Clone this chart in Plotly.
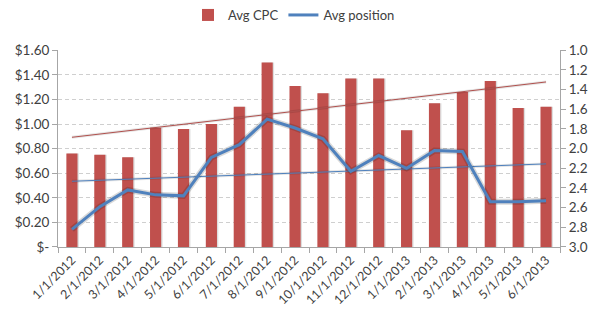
import numpy as np
import plotly.graph_objects as go

months = ["1/1/2012", "2/1/2012", "3/1/2012", "4/1/2012", "5/1/2012", "6/1/2012",
          "7/1/2012", "8/1/2012", "9/1/2012", "10/1/2012", "11/1/2012", "12/1/2012",
          "1/1/2013", "2/1/2013", "3/1/2013", "4/1/2013", "5/1/2013", "6/1/2013"]
avg_cpc = [0.76, 0.75, 0.73, 0.97, 0.96, 1.00, 1.14, 1.50, 1.31, 1.25, 1.37, 1.37,
           0.95, 1.17, 1.26, 1.35, 1.13, 1.14]
avg_position = [2.82, 2.59, 2.42, 2.47, 2.48, 2.09, 1.96, 1.70, 1.79, 1.90, 2.23, 2.07,
                2.20, 2.02, 2.03, 2.54, 2.54, 2.53]
cpc_ticks = [0, 0.2, 0.4, 0.6, 0.8, 1.0, 1.2, 1.4, 1.6]
cpc_tick_labels = ["$-", "$0.20", "$0.40", "$0.60", "$0.80", "$1.00", "$1.20", "$1.40", "$1.60"]

# linear trendlines (as Excel's linear trendline)
idx = np.arange(len(months))
cpc_fit = np.polyval(np.polyfit(idx, avg_cpc, 1), idx)
pos_fit = np.polyval(np.polyfit(idx, avg_position, 1), idx)

RED = "#C0504D"
BLUE = "#4F81BD"
FONT = "Lato"

fig = go.Figure()
# bar shadow
fig.add_trace(go.Bar(x=months, y=avg_cpc, marker_color="rgba(0,0,0,0.13)",
                     marker_line_width=0, width=0.42, offset=-0.17,
                     showlegend=False, hoverinfo="skip"))
fig.add_trace(go.Bar(x=months, y=avg_cpc, name="Avg CPC", marker_color=RED,
                     marker_line_width=0, width=0.4, offset=-0.2))
fig.add_trace(go.Scatter(x=months, y=cpc_fit, mode="lines",
                         line=dict(color="rgba(0,0,0,0.10)", width=3),
                         showlegend=False, hoverinfo="skip"))
fig.add_trace(go.Scatter(x=months, y=cpc_fit, mode="lines",
                         line=dict(color="#B0504D", width=1), showlegend=False))
# position series on secondary axis
fig.add_trace(go.Scatter(x=months, y=pos_fit, mode="lines", yaxis="y2",
                         line=dict(color="rgba(0,0,0,0.10)", width=3),
                         showlegend=False, hoverinfo="skip"))
fig.add_trace(go.Scatter(x=months, y=pos_fit, mode="lines", yaxis="y2",
                         line=dict(color=BLUE, width=1), showlegend=False))
fig.add_trace(go.Scatter(x=months, y=avg_position, mode="lines", yaxis="y2",
                         line=dict(color="rgba(0,0,0,0.15)", width=6),
                         showlegend=False, hoverinfo="skip"))
fig.add_trace(go.Scatter(x=months, y=avg_position, mode="lines", yaxis="y2",
                         name="Avg position", line=dict(color=BLUE, width=3)))

fig.update_layout(
    width=600, height=322,
    margin=dict(l=58, r=40, t=37, b=75),
    paper_bgcolor="white", plot_bgcolor="white",
    font=dict(family=FONT, size=13, color="#404040"),
    barmode="overlay",
    showlegend=True,
    legend=dict(orientation="h", xref="container", yref="container",
                x=0.49, xanchor="center", y=1.0, yanchor="top",
                font=dict(size=13, color="#404040"), itemwidth=30,
                traceorder="normal"),
    xaxis=dict(type="category", showline=True, linecolor="#A6A6A6", linewidth=1,
               ticks="outside", tickson="boundaries", ticklen=5, tickcolor="#A6A6A6",
               tickangle=-45, tickfont=dict(size=12.5), showgrid=False,
               range=[-0.5, len(months) - 0.5]),
    yaxis=dict(range=[0, 1.6], tickvals=cpc_ticks, ticktext=cpc_tick_labels,
               showline=True, linecolor="#A6A6A6", ticks="outside", ticklen=5,
               tickcolor="#A6A6A6", showgrid=True, gridcolor="#CFCFCF",
               griddash="4px,3px", gridwidth=1, zeroline=False,
               tickfont=dict(size=13.5)),
    yaxis2=dict(range=[3.0, 1.0], overlaying="y", side="right", dtick=0.2,
                tick0=1.0, tickformat=".1f", showline=True, linecolor="#A6A6A6",
                ticks="outside", ticklen=5, tickcolor="#A6A6A6", showgrid=False,
                zeroline=False, tickfont=dict(size=13.5)),
)

fig.write_html("out.html")
